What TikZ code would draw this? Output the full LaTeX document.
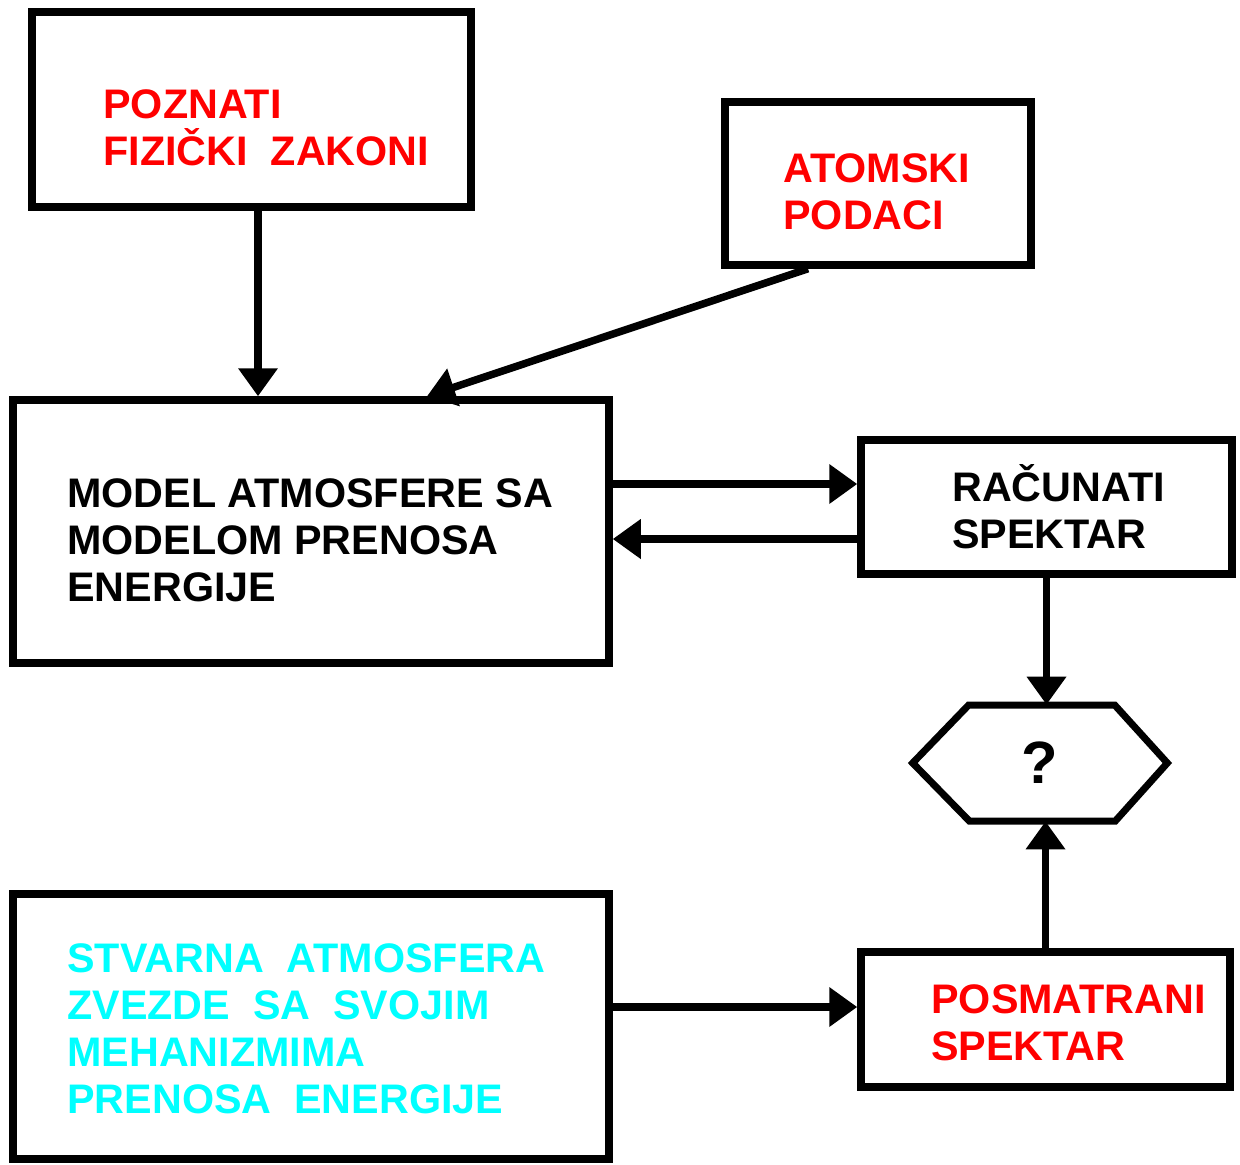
\documentclass[tikz,border=0pt]{standalone}
\usepackage{fontspec}
\setmainfont{Liberation Sans}
\usepackage{tikz}
\usetikzlibrary{arrows.meta,fit}
\definecolor{lawred}{RGB}{255,0,0}
\definecolor{starcyan}{RGB}{0,255,255}

\begin{document}
\begin{tikzpicture}[x=0.02cm,y=-0.02cm,
  box/.style={draw,line width=0.15cm,inner sep=0pt},
  lbl/.style={anchor=base west,align=left,inner sep=0pt,
              font=\fontsize{23.5}{26.75}\selectfont\bfseries},
  arr/.style={-{Triangle[length=0.56cm,width=0.76cm]},line width=0.15cm}]
\useasboundingbox (0,0) rectangle (1240,1164);
\node[box,fit={(32,12) (471,207)}] (zakoni) {};
\node[box,fit={(725,102) (1031,265)}] (atom) {};
\node[box,fit={(13,400) (609,663)}] (model) {};
\node[box,fit={(861,440) (1232,574)}] (racun) {};
\node[box,fit={(13,894) (609,1159)}] (stvar) {};
\node[box,fit={(861,952) (1230,1087)}] (posm) {};
\node[minimum width=5.08cm,minimum height=2.32cm,inner sep=0pt,
      font=\fontsize{34}{36}\selectfont\bfseries] (hex) at (1040,763) {?};
\draw[line width=0.14cm] (hex.west) -- ++(56,-58) -- ++(146,0) -- (hex.east)
  -- ++(-52,58) -- ++(-146,0) -- cycle;
\node[lbl,text=lawred] (zakoniT) at (103,165) {POZNATI\\FIZIČKI\ \ ZAKONI};
\node[lbl,text=lawred] (atomT) at (783,229) {ATOMSKI\\PODACI};
\node[lbl] (modelT) at (67,601) {MODEL ATMOSFERE SA\\MODELOM PRENOSA\\ENERGIJE};
\node[lbl] (racunT) at (952,548) {RAČUNATI\\SPEKTAR};
\node[lbl,text=starcyan] (stvarT) at (67,1113) {STVARNA\ \ ATMOSFERA\\ZVEZDE\ \ SA\ \ SVOJIM\\MEHANIZMIMA\\PRENOSA\ \ ENERGIJE};
\node[lbl,text=lawred] (posmT) at (931,1060) {POSMATRANI\\SPEKTAR};
\coordinate (z1) at ([xshift=0.13cm]zakoni.south);
\draw[arr] (z1) -- (z1 |- model.north);
\draw[arr] ([xshift=-1.4cm]atom.south) -- ([xshift=2.32cm]model.north);
\draw[arr] (model.east |- 0,484) -- (racun.west |- 0,484);
\draw[arr] (racun.west |- 0,539) -- (model.east |- 0,539);
\draw[arr] (racun.south) -- (racun.south |- hex.north);
\draw[arr] (posm.north) -- (posm.north |- hex.south);
\draw[arr] (stvar.east |- 0,1007) -- (posm.west |- 0,1007);
\end{tikzpicture}
\end{document}
